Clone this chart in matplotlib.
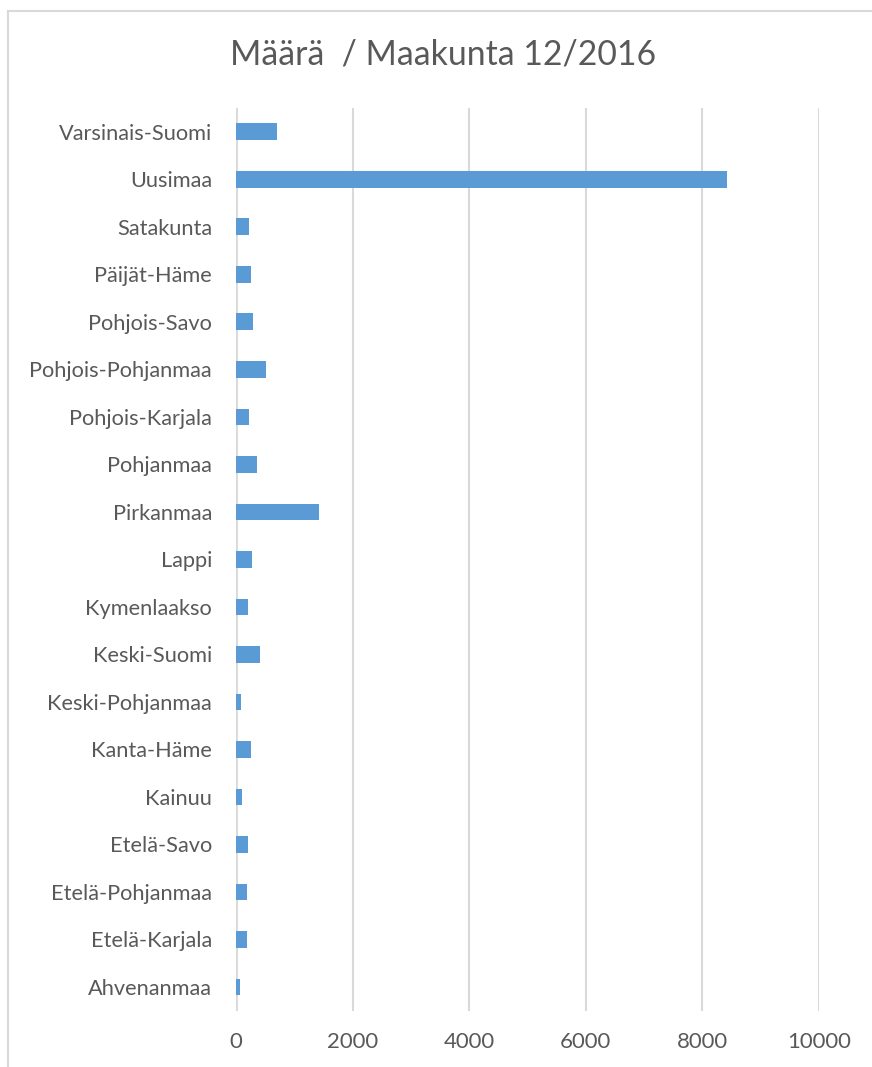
import matplotlib
matplotlib.use("Agg")
import matplotlib.pyplot as plt
from matplotlib.lines import Line2D

regions = ["Varsinais-Suomi", "Uusimaa", "Satakunta", "Päijät-Häme", "Pohjois-Savo",
           "Pohjois-Pohjanmaa", "Pohjois-Karjala", "Pohjanmaa", "Pirkanmaa", "Lappi",
           "Kymenlaakso", "Keski-Suomi", "Keski-Pohjanmaa", "Kanta-Häme", "Kainuu",
           "Etelä-Savo", "Etelä-Pohjanmaa", "Etelä-Karjala", "Ahvenanmaa"]
counts = [703, 8415, 228, 257, 291, 514, 216, 360, 1429, 274, 206, 417, 86, 262, 96,
          199, 197, 182, 62]
xticks = [0, 2000, 4000, 6000, 8000, 10000]
title = "Määrä  / Maakunta 12/2016"

W, H = 872, 1067
fig = plt.figure(figsize=(W / 100, H / 100), dpi=100)
plt.rcParams['font.family'] = ['Lato', 'DejaVu Sans']

left, right = 236 / W, 819 / W
top, bottom = 108 / H, 1010.75 / H
ax = fig.add_axes([left, 1 - bottom, right - left, bottom - top])

ypos = list(range(len(regions)))
ax.barh(ypos, counts, height=0.35, color="#5b9bd5", zorder=3)
ax.set_ylim(len(regions) - 0.5, -0.5)
ax.set_xlim(0, 10000)
ax.set_yticks(ypos)
ax.set_yticklabels(regions)
ax.set_xticks(xticks)
ax.set_xticklabels([str(t) for t in xticks])
ax.grid(axis="x", color="#d9d9d9", linewidth=1.5, zorder=0)
for s in ax.spines.values():
    s.set_visible(False)
ax.axvline(0, color="#d9d9d9", linewidth=2, zorder=1)
ax.tick_params(axis="y", length=0, labelsize=15.7, colors="#595959", pad=17.3)
ax.tick_params(axis="x", length=0, labelsize=15.9, colors="#595959", pad=15.5)

fig.text(443 / W, 1 - 55 / H, title, ha="center", va="center", fontsize=24.3, color="#595959")

# chart frame
fig.add_artist(Line2D([8 / W, 8 / W], [0, 1 - 10.5 / H], transform=fig.transFigure,
                      color="#d9d9d9", linewidth=1.5))
fig.add_artist(Line2D([8 / W, 1], [1 - 10.5 / H, 1 - 10.5 / H], transform=fig.transFigure,
                      color="#d9d9d9", linewidth=1.5))

fig.savefig("out.png", dpi=100)
